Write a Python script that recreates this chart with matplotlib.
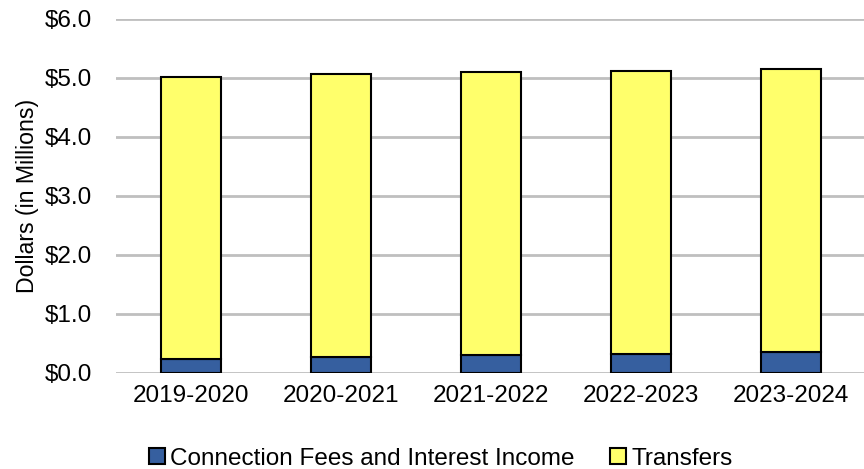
import matplotlib.pyplot as plt
import numpy as np

plt.rcParams['font.family'] = ['Liberation Sans', 'DejaVu Sans']

years = ['2019-2020', '2020-2021', '2021-2022', '2022-2023', '2023-2024']
connection_fees = [0.24, 0.27, 0.30, 0.32, 0.36]
transfers = [4.78, 4.80, 4.80, 4.80, 4.79]

fig = plt.figure(figsize=(8.64, 4.69), dpi=100)
ax = fig.add_axes([0.134, 0.205, 0.868, 0.755])

x = np.arange(len(years))
ax.bar(x, connection_fees, width=0.4, color='#365F9F', edgecolor='black', lw=1.5,
       label='Connection Fees and Interest Income', zorder=3)
ax.bar(x, transfers, width=0.4, bottom=connection_fees, color='#FFFF6B', edgecolor='black',
       lw=1.5, label='Transfers', zorder=3)

ax.set_xlim(-0.5, len(years) - 0.5)
ax.set_ylim(0, 6)
ax.set_yticks(np.arange(0, 6.1, 1.0))
ax.set_yticklabels(['${:.1f}'.format(v) for v in np.arange(0, 6.1, 1.0)])
ax.set_xticks(x)
ax.set_xticklabels(years)
ax.yaxis.grid(True, color='#BFBFBF', lw=2, zorder=0)
for s in ax.spines.values():
    s.set_visible(False)
ax.tick_params(axis='both', length=0, labelsize=17.5)
ax.tick_params(axis='x', pad=9)
ax.tick_params(axis='y', pad=17)
ax.set_ylabel('Dollars (in Millions)', fontsize=16.7, labelpad=4)

fig.legend(loc='center', bbox_to_anchor=(0.51, 0.022), ncol=2, frameon=False,
           fontsize=17.5, handlelength=0.65, handleheight=0.65, handletextpad=0.2,
           columnspacing=1.5, borderpad=0)

fig.savefig('out.png', dpi=100)
